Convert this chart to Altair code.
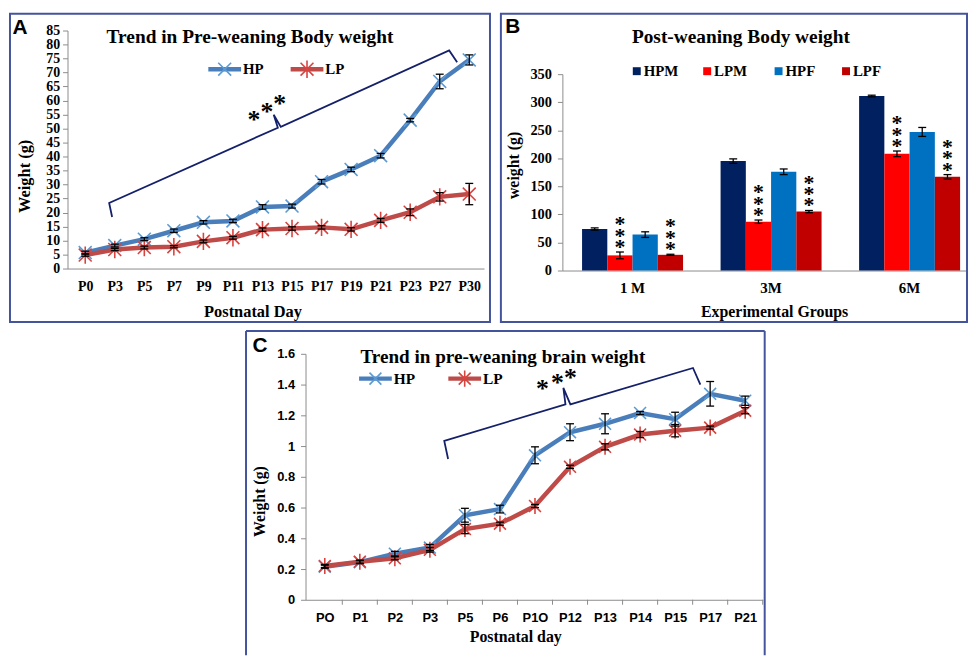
import altair as alt
import pandas as pd

# ---------------- data ----------------
# Panel A: pre-weaning body weight (g)
A_days = ["P0", "P3", "P5", "P7", "P9", "P11", "P13", "P15", "P17", "P19", "P21", "P23", "P27", "P30"]
A_hp = [5.7, 8.2, 10.5, 13.5, 16.5, 17.0, 22.0, 22.3, 31.0, 35.4, 40.3, 53.0, 66.8, 74.5]
A_hp_err = [0.5, 0.5, 0.5, 0.6, 0.6, 0.6, 0.8, 0.7, 0.8, 0.8, 0.8, 0.6, 2.6, 1.8]
A_lp = [4.8, 6.8, 7.5, 7.8, 9.7, 11.0, 13.9, 14.3, 14.7, 14.0, 17.2, 20.1, 25.6, 26.6]
A_lp_err = [0.4, 0.4, 0.5, 0.4, 0.5, 0.5, 0.6, 0.6, 0.6, 0.6, 0.7, 1.2, 1.5, 3.8]
A_bracket_x = [0.91, 0.81, 6.52, 6.38, 6.62, 12.32, 12.59]
A_bracket_y = [18.4, 23.4, 50.3, 54.9, 50.6, 77.9, 73.7]
A_star_x = [5.71, 6.15, 6.58]
A_star_y = [54.9, 57.7, 60.6]

# Panel B: post-weaning body weight (g)
B_groups = ["1 M", "3M", "6M"]
B_series = ["HPM", "LPM", "HPF", "LPF"]
B_colors = ["#002060", "#FF0000", "#0070C0", "#C00000"]
B_hpm = [74, 195, 311]
B_lpm = [27, 87, 208]
B_hpf = [64, 176, 247]
B_lpf = [28, 105, 167]
B_hpm_err = [2, 4, 1.5]
B_lpm_err = [6, 3, 5]
B_hpf_err = [5, 5, 8]
B_lpf_err = [1, 2, 4]
B_starred = ["LPM", "LPF"]

# Panel C: pre-weaning brain weight (g)
C_days = ["PO", "P1", "P2", "P3", "P5", "P6", "P1O", "P12", "P13", "P14", "P15", "P17", "P21"]
C_hp = [0.215, 0.245, 0.30, 0.34, 0.55, 0.59, 0.94, 1.09, 1.145, 1.215, 1.175, 1.34, 1.295]
C_hp_err = [0.01, 0.01, 0.015, 0.02, 0.045, 0.025, 0.055, 0.055, 0.065, 0.01, 0.045, 0.08, 0.03]
C_lp = [0.22, 0.248, 0.27, 0.325, 0.46, 0.495, 0.61, 0.865, 0.995, 1.075, 1.10, 1.12, 1.23]
C_lp_err = [0.01, 0.01, 0.01, 0.015, 0.03, 0.01, 0.01, 0.01, 0.02, 0.02, 0.04, 0.01, 0.02]
C_bracket_x = [3.52, 3.41, 6.87, 6.81, 7.01, 10.51, 10.72]
C_bracket_y = [0.916, 1.034, 1.271, 1.379, 1.271, 1.508, 1.40]
C_star_x = [6.21, 6.64, 7.01]
C_star_y = [1.40, 1.443, 1.475]

# ---------------- styles ----------------
SERIF = "Liberation Serif"
SANS = "Liberation Sans"
FRAME = "#44549C"
NAVY = "#14206A"
GRAY = "#8C8C8C"
BLUE = "#4A7EBB"
BLUE_M = "#5B9BD5"
RED = "#BE4B48"
RED_M = "#D8433F"
XPATH = "M-1,-1L1,1M-1,1L1,-1"
ASTPATH = "M-1,-1L1,1M-1,1L1,-1M0,-1.35L0,1.35"
CAP = "M-1,0L1,0"

ONE = pd.DataFrame({"k": [0]})


def ptext(txt, x, y, size, font=SERIF, weight="bold", angle=0, align="center"):
    return alt.Chart(ONE).mark_text(
        text=txt, font=font, fontSize=size, fontWeight=weight, angle=angle,
        align=align, baseline="middle", color="black"
    ).encode(x=alt.value(x), y=alt.value(y))


def prule(x1, x2, y1, y2, color, width):
    return alt.Chart(ONE).mark_rule(color=color, strokeWidth=width).encode(
        x=alt.value(x1), x2=alt.value(x2), y=alt.value(y1), y2=alt.value(y2))


def pmark(x, y, shape, size, color, width=1.6, filled=False):
    return alt.Chart(ONE).mark_point(
        shape=shape, size=size, filled=filled, color=color, strokeWidth=width, opacity=1
    ).encode(x=alt.value(x), y=alt.value(y))


def frame_rect(x1, x2, y1, y2):
    return alt.Chart(ONE).mark_rect(fill="transparent", stroke=FRAME, strokeWidth=2).encode(
        x=alt.value(x1), x2=alt.value(x2), y=alt.value(y1), y2=alt.value(y2))


def line_panel(days, hp, hp_err, lp, lp_err, brx, bry, stx, sty, c):
    n = len(days)
    rows = []
    for i, d in enumerate(days):
        rows.append(dict(idx=i, s="HP", val=hp[i], lo=hp[i] - hp_err[i], hi=hp[i] + hp_err[i]))
        rows.append(dict(idx=i, s="LP", val=lp[i], lo=lp[i] - lp_err[i], hi=lp[i] + lp_err[i]))
    df = pd.DataFrame(rows)
    hp_df = df[df.s == "HP"]
    lp_df = df[df.s == "LP"]
    br_df = pd.DataFrame({"idx": brx, "val": bry, "o": list(range(len(brx)))})
    st_df = pd.DataFrame({"idx": stx, "val": sty})

    expr = "[" + ",".join("'%s'" % d for d in days) + "][datum.value]"
    xscale = dict(domain=c["xdom"], nice=False, zero=False)
    if c.get("xrange"):
        xscale["range"] = c["xrange"]
    X = alt.X("idx:Q", title=None, scale=alt.Scale(**xscale),
              axis=alt.Axis(values=list(range(n)), labelExpr=expr, ticks=False, grid=False,
                            domainColor=GRAY, labelFont=c["xfont"], labelFontSize=c["xsize"],
                            labelFontWeight="bold", labelColor="black", labelPadding=c["xpad"],
                            labelFlush=False, labelOverlap=False, labelAngle=0))

    def Y(f):
        return alt.Y(f + ":Q", title=None,
                     scale=alt.Scale(domain=c["ydom"], nice=False, zero=False),
                     axis=alt.Axis(values=c["yvals"], labelExpr=c["yexpr"], grid=False, tickSize=5,
                                   tickColor=GRAY, domainColor=GRAY, labelFont=c["yfont"],
                                   labelFontSize=c["ysize"], labelFontWeight="bold",
                                   labelColor="black", labelPadding=c["ypad"],
                                   labelOverlap=False, labelFlush=False, offset=c["yoff"]))

    layers = [frame_rect(*c["frame"])] if c.get("frame") else []
    for d_, lc, mc, shp in [(hp_df, BLUE, BLUE_M, XPATH), (lp_df, RED, RED_M, ASTPATH)]:
        layers.append(alt.Chart(d_).mark_line(color=lc, strokeWidth=4.5).encode(x=X, y=Y("val")))
        layers.append(alt.Chart(d_).mark_point(shape=shp, size=c["msize"], filled=False, color=mc,
                                               strokeWidth=1.6, opacity=1).encode(x=X, y=Y("val")))
    for d_ in (hp_df, lp_df):
        layers.append(alt.Chart(d_).mark_rule(color="black", strokeWidth=1.3).encode(
            x=X, y=Y("lo"), y2=alt.Y2("hi:Q")))
        for f in ("lo", "hi"):
            layers.append(alt.Chart(d_).mark_point(shape=CAP, size=64, filled=False, color="black",
                                                   strokeWidth=1.3, opacity=1).encode(x=X, y=Y(f)))
    layers.append(alt.Chart(br_df).mark_line(color=NAVY, strokeWidth=1.8).encode(
        x=X, y=Y("val"), order="o:O"))
    layers.append(alt.Chart(st_df).mark_text(text="*", font=SERIF, fontSize=26, fontWeight="bold",
                                             baseline="alphabetic", dy=13, color="black").encode(
        x=X, y=Y("val")))
    return layers, X


# ---------------- panel A (plot origin = page 68, 28) ----------------
WA, HA = 420, 240
cA = dict(xdom=[-0.6, 13.5], ydom=[0, 85], yvals=list(range(0, 86, 5)),
          yexpr="datum.label", yfont=SERIF, ysize=14, ypad=3, yoff=0,
          xfont=SERIF, xsize=14, xpad=11, msize=169,
          frame=(-58, 426, -17, 294))
layersA, XA = line_panel(A_days, A_hp, A_hp_err, A_lp, A_lp_err,
                         A_bracket_x, A_bracket_y, A_star_x, A_star_y, cA)
layersA += [
    ptext("A", -48, -3, 21, font=SANS),
    ptext("Trend in Pre-weaning Body weight", 184, 7, 19.5),
    prule(142, 175, 39, 39, BLUE, 4.5), pmark(158.5, 39, XPATH, 169, BLUE_M),
    ptext("HP", 177, 39, 15, align="left"),
    prule(225, 258, 39, 39, RED, 4.5), pmark(241.5, 39, ASTPATH, 169, RED_M),
    ptext("LP", 260, 39, 15, align="left"),
    ptext("Weight (g)", -43, 147, 16.5, angle=270),
    ptext("Postnatal Day", 187, 284, 16.5),
]
panelA = alt.layer(*layersA).properties(width=WA, height=HA)

# ---------------- panel B (plot origin = page 567, 28; bars 72..270) ----------------
WB, HB = 408, 242
brows = []
vals = {"HPM": (B_hpm, B_hpm_err), "LPM": (B_lpm, B_lpm_err),
        "HPF": (B_hpf, B_hpf_err), "LPF": (B_lpf, B_lpf_err)}
for gi, g in enumerate(B_groups):
    for s in B_series:
        v, e = vals[s]
        brows.append(dict(grp=g, sub=s, val=v[gi], lo=v[gi] - e[gi], hi=v[gi] + e[gi]))
bdf = pd.DataFrame(brows)
sdf = bdf[bdf["sub"].isin(B_starred)]

XB = alt.X("grp:N", sort=B_groups, title=None,
           scale=alt.Scale(paddingInner=0.271, paddingOuter=0.096, align=0.74),
           axis=alt.Axis(ticks=False, domainColor=GRAY, labelAngle=0, labelFont=SERIF,
                         labelFontSize=15, labelFontWeight="bold", labelColor="black",
                         labelPadding=10))
XO = alt.XOffset("sub:N", sort=B_series, scale=alt.Scale(paddingInner=0, paddingOuter=0))


def YB(f):
    return alt.Y(f + ":Q", title=None, scale=alt.Scale(domain=[0, 350], nice=False, range=[242, 44]),
                 axis=alt.Axis(values=list(range(0, 351, 50)), grid=False, tickSize=5,
                               tickColor=GRAY, domainColor=GRAY, labelFont=SERIF,
                               labelFontSize=14.5, labelFontWeight="bold", labelColor="black",
                               labelPadding=6))


layersB = [
    frame_rect(-62, 408, -17, 294),
    alt.Chart(bdf).mark_bar().encode(
        x=XB, xOffset=XO, y=YB("val"),
        color=alt.Color("sub:N", scale=alt.Scale(domain=B_series, range=B_colors), legend=None)),
    alt.Chart(bdf).mark_rule(color="black", strokeWidth=1.3).encode(
        x=XB, xOffset=XO, y=YB("lo"), y2=alt.Y2("hi:Q")),
    alt.Chart(bdf).mark_point(shape=CAP, size=64, filled=False, color="black",
                              strokeWidth=1.3, opacity=1).encode(x=XB, xOffset=XO, y=YB("lo")),
    alt.Chart(bdf).mark_point(shape=CAP, size=64, filled=False, color="black",
                              strokeWidth=1.3, opacity=1).encode(x=XB, xOffset=XO, y=YB("hi")),
    alt.Chart(sdf).mark_text(text="*\n*\n*", lineBreak="\n", lineHeight=11.5, font=SERIF,
                             fontSize=22, fontWeight="bold", baseline="bottom", dy=-16,
                             color="black").encode(x=XB, xOffset=XO, y=YB("hi")),
]
leg_x = [75, 146, 218, 286]
for lx, s, col in zip(leg_x, B_series, B_colors):
    layersB.append(pmark(lx, 41, "square", 64, col, width=0, filled=True))
    layersB.append(ptext(s, lx + 7, 41, 15, align="left"))
layersB += [
    ptext("B", -50, -4, 21, font=SANS),
    ptext("Post-weaning Body weight", 180, 7, 19.5),
    ptext("weight (g)", -49, 136, 16, angle=270),
    ptext("Experimental Groups", 214, 284, 16),
]
panelB = alt.layer(*layersB).properties(width=WB, height=HB)

# ---------------- panel C (plot origin = page 68, 354; axes at 308..769) ----------------
WC, HC = 701, 248
cC = dict(xdom=[-0.55, 12.5], xrange=[240, 701], ydom=[0, 1.6],
          yvals=[0, 0.2, 0.4, 0.6, 0.8, 1.0, 1.2, 1.4, 1.6],
          yexpr="toString(round(datum.value*10)/10)", yfont=SANS, ysize=13, ypad=6, yoff=-240,
          xfont=SANS, xsize=13, xpad=12, msize=144, frame=None)
layersC, XC = line_panel(C_days, C_hp, C_hp_err, C_lp, C_lp_err,
                         C_bracket_x, C_bracket_y, C_star_x, C_star_y, cC)
tick_df = pd.DataFrame({"idx": [i + 0.5 for i in range(13)]})
layersC += [
    alt.Chart(tick_df).mark_rule(color=GRAY, strokeWidth=1).encode(
        x=XC, y=alt.value(HC), y2=alt.value(HC + 5)),
    prule(180, 180, -23, 304, FRAME, 2),
    prule(180, 703, -23, -23, FRAME, 2),
    prule(703, 703, -23, 304, FRAME, 2),
    ptext("C", 194, -8, 21, font=SANS),
    ptext("Trend in pre-weaning brain weight", 439, 3, 19.3),
    prule(294, 327, 25, 25, BLUE, 4.5), pmark(310.5, 25, XPATH, 144, BLUE_M),
    ptext("HP", 329, 25, 15.5, align="left"),
    prule(384, 417, 25, 25, RED, 4.5), pmark(400.5, 25, ASTPATH, 144, RED_M),
    ptext("LP", 419, 25, 15.5, align="left"),
    ptext("Weight (g)", 194, 149, 16, angle=270),
    ptext("Postnatal day", 452, 286, 16),
]
panelC = alt.layer(*layersC).properties(width=WC, height=HC)

chart = alt.vconcat(
    alt.hconcat(panelA, panelB, spacing=9),
    panelC,
    spacing=7,
).properties(
    padding={"left": 1, "top": 2, "right": 0, "bottom": 0}
).configure_view(stroke=None)

chart.save("out.html", embed_options={"renderer": "svg", "actions": False})
